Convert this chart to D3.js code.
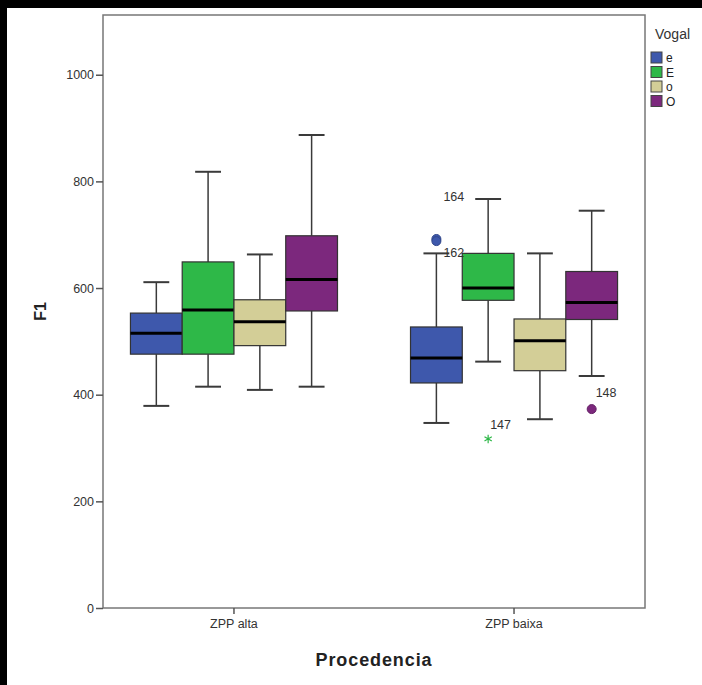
<!DOCTYPE html>
<html><head><meta charset="utf-8">
<script src="https://cdn.jsdelivr.net/npm/d3@7/dist/d3.min.js"></script>
<style>body{margin:0;background:#000;} svg{display:block;}</style>
</head><body>
<script>
const categories = ["ZPP alta", "ZPP baixa"];
const vogais = ["e", "E", "o", "O"];
const colors = ["#3E58AC", "#2EB848", "#D3CE97", "#7C287D"];
const yTicks = [0, 200, 400, 600, 800, 1000];
// [whiskerLow, q1, median, q3, whiskerHigh] per category (alta, baixa)
const stats_e = [[379, 476, 515, 553, 611], [347, 422, 469, 527, 665]];
const stats_E = [[415, 476, 559, 649, 818], [462, 577, 600, 665, 767]];
const stats_o = [[409, 492, 537, 578, 663], [354, 445, 501, 542, 665]];
const stats_O = [[415, 557, 616, 698, 887], [435, 541, 573, 631, 745]];
const outlierCat = ["ZPP baixa", "ZPP baixa", "ZPP baixa", "ZPP baixa"];
const outlierVogal = ["e", "e", "E", "O"];
const outlierValue = [692, 688, 317, 373];
const outlierLabel = ["164", "162", "147", "148"];
const outlierShape = ["circle", "circle", "star", "circle"];

const W = 702, H = 685;
const svg = d3.select("body").append("svg").attr("width", W).attr("height", H);
svg.append("rect").attr("x", 7).attr("y", 8).attr("width", W - 7).attr("height", H - 8).attr("fill", "#fff");

const L = 103, R = 645, T = 15, B = 608;
const y = d3.scaleLinear().domain([0, 1112]).range([B, T]);
const x0 = d3.scaleBand().domain(categories).range([L, R]).paddingInner(0.2607).paddingOuter(0.098);
const x1 = d3.scaleBand().domain(vogais).range([0, x0.bandwidth()]);
const color = d3.scaleOrdinal().domain(vogais).range(colors);
const statsBy = {e: stats_e, E: stats_E, o: stats_o, O: stats_O};

const font = "'Liberation Sans', Arial, sans-serif";
const stroke = "#3a3a3a";

// frame
svg.append("rect").attr("x", L).attr("y", T).attr("width", R - L).attr("height", B - T)
  .attr("fill", "none").attr("stroke", "#777").attr("stroke-width", 1.5);

// y axis
const ya = svg.append("g").attr("transform", `translate(${L},0)`)
  .call(d3.axisLeft(y).tickValues(yTicks).tickFormat(d3.format("d")).tickSize(7).tickSizeOuter(0).tickPadding(2));
ya.select(".domain").remove();
ya.selectAll(".tick line").attr("stroke", "#555").attr("stroke-width", 1.5);
ya.selectAll(".tick text").attr("font-family", font).attr("font-size", 12.5).attr("fill", "#333");

// x axis
const xa = svg.append("g").attr("transform", `translate(0,${B})`)
  .call(d3.axisBottom(x0).tickSize(6).tickSizeOuter(0).tickPadding(5));
xa.select(".domain").remove();
xa.selectAll(".tick line").attr("stroke", "#555").attr("stroke-width", 1.5);
xa.selectAll(".tick text").attr("font-family", font).attr("font-size", 12.5).attr("fill", "#333");

// boxes
categories.forEach((c, ci) => {
  vogais.forEach(v => {
    const s = statsBy[v][ci];
    const bx = x0(c) + x1(v), bw = x1.bandwidth(), cx = bx + bw / 2;
    const g = svg.append("g");
    g.append("line").attr("x1", cx).attr("x2", cx).attr("y1", y(s[0])).attr("y2", y(s[1]))
      .attr("stroke", stroke).attr("stroke-width", 1.5);
    g.append("line").attr("x1", cx).attr("x2", cx).attr("y1", y(s[3])).attr("y2", y(s[4]))
      .attr("stroke", stroke).attr("stroke-width", 1.5);
    [s[0], s[4]].forEach(val => {
      g.append("line").attr("x1", cx - bw / 4).attr("x2", cx + bw / 4).attr("y1", y(val)).attr("y2", y(val))
        .attr("stroke", stroke).attr("stroke-width", 2);
    });
    g.append("rect").attr("x", bx).attr("y", y(s[3])).attr("width", bw).attr("height", y(s[1]) - y(s[3]))
      .attr("fill", color(v)).attr("stroke", "#333").attr("stroke-width", 1.2);
    g.append("line").attr("x1", bx).attr("x2", bx + bw).attr("y1", y(s[2])).attr("y2", y(s[2]))
      .attr("stroke", "#000").attr("stroke-width", 3);
  });
});

// outliers
const labelDx = [7, 7, 2, 4], labelDy = [-38, 16, -10, -12];
outlierValue.forEach((val, i) => {
  const cx = x0(outlierCat[i]) + x1(outlierVogal[i]) + x1.bandwidth() / 2;
  const cy = y(val);
  if (outlierShape[i] === "circle") {
    svg.append("circle").attr("cx", cx).attr("cy", cy).attr("r", 4.5)
      .attr("fill", color(outlierVogal[i])).attr("stroke", d3.color(color(outlierVogal[i])).darker(0.6)).attr("stroke-width", 1);
  } else {
    svg.append("path").attr("d", d3.symbol(d3.symbolAsterisk, 50)())
      .attr("transform", `translate(${cx},${cy})`).attr("fill", "none")
      .attr("stroke", color(outlierVogal[i])).attr("stroke-width", 1.2);
  }
  svg.append("text").attr("x", cx + labelDx[i]).attr("y", cy + labelDy[i])
    .attr("font-family", font).attr("font-size", 12.5).attr("fill", "#333").text(outlierLabel[i]);
});

// axis titles
svg.append("text").attr("transform", `translate(46,${(T + B) / 2}) rotate(-90)`)
  .attr("text-anchor", "middle").attr("font-family", font).attr("font-weight", "bold")
  .attr("font-size", 16).attr("fill", "#222").text("F1");
svg.append("text").attr("x", (L + R) / 2).attr("y", 666).attr("text-anchor", "middle")
  .attr("font-family", font).attr("font-weight", "bold").attr("font-size", 18).attr("letter-spacing", 0.9)
  .attr("fill", "#222").text("Procedencia");

// legend
const lg = svg.append("g");
lg.append("text").attr("x", 655).attr("y", 39).attr("font-family", font).attr("font-size", 14)
  .attr("fill", "#333").text("Vogal");
vogais.forEach((v, i) => {
  const ly = 52 + i * 14.5;
  lg.append("rect").attr("x", 651).attr("y", ly).attr("width", 11).attr("height", 11)
    .attr("fill", color(v)).attr("stroke", "#444").attr("stroke-width", 1);
  lg.append("text").attr("x", 666).attr("y", ly + 10).attr("font-family", font).attr("font-size", 12)
    .attr("fill", "#222").text(v);
});
</script>
</body></html>
